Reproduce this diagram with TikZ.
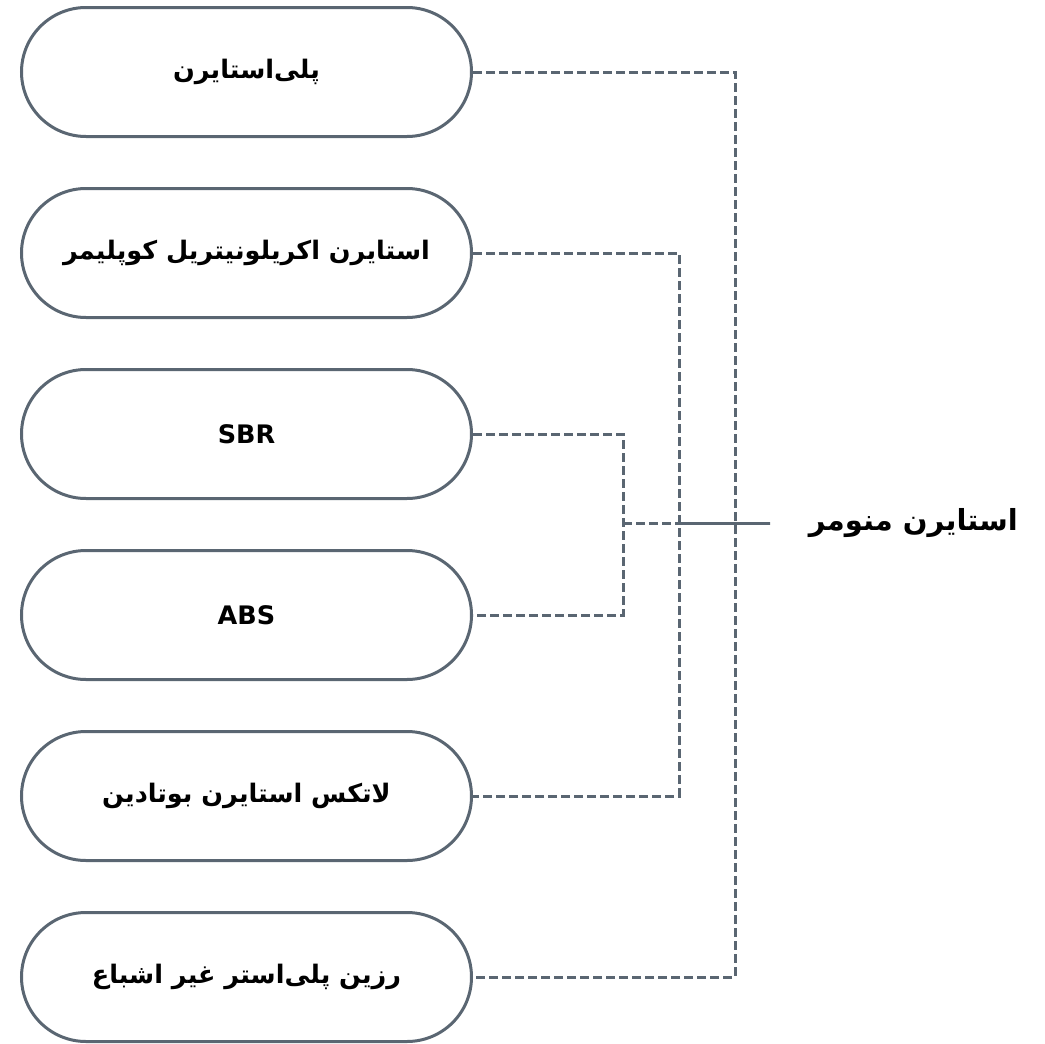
\documentclass[tikz,border=0pt]{standalone}
\usepackage{fontspec}
\TeXXeTstate=1
\newfontfamily\arabicfont[Script=Arabic]{DejaVu Sans}
\definecolor{edgegray}{RGB}{90,102,114}
\begin{document}
\begin{tikzpicture}[x=1pt,y=-1pt,
  pill/.style={draw=edgegray,line width=3pt,fill=white,rounded corners=64.5pt,
    minimum width=450pt,minimum height=129pt,inner sep=0pt,
    font=\arabicfont\bfseries\fontsize{25.5}{30}\selectfont},
  dashline/.style={draw=edgegray,line width=3pt,dash pattern=on 9pt off 4pt},
  title/.style={font=\arabicfont\bfseries\fontsize{29}{34}\selectfont,inner sep=0pt}]
\useasboundingbox (0,0) rectangle (1045,1044);
\node[pill] (b1) at (246.5,72) {\beginR پلی^^^^200cاستایرن\endR};
\node[pill] (b2) at (246.5,253) {\beginR استایرن اکریلونیتریل کوپلیمر\endR};
\node[pill] (b3) at (246.5,434) {SBR};
\node[pill] (b4) at (246.5,615) {ABS};
\node[pill] (b5) at (246.5,796) {\beginR لاتکس استایرن بوتادین\endR};
\node[pill] (b6) at (246.5,977) {\beginR رزین پلی^^^^200cاستر غیر اشباع\endR};
\coordinate (c1) at (735,977);
\coordinate (c2) at (679,796);
\coordinate (c3) at (623,615);
\coordinate (v1) at (735,523);
\coordinate (v2) at (679,523);
\coordinate (v3) at (623,523);
\coordinate (j) at (770,523);
\draw[dashline] (b1.east) -| (c1) -- (b6.east);
\draw[dashline] (b2.east) -| (c2) -- (b5.east);
\draw[dashline] (b3.east) -| (c3) -- (b4.east);
\draw[dashline] (v3) -- (j);
\draw[dashline] (v2) -- (j);
\draw[dashline] (v1) -- (j);
\node[title,anchor=east] (m) at (1018,523) {\beginR استایرن منومر\endR};
\end{tikzpicture}
\end{document}
